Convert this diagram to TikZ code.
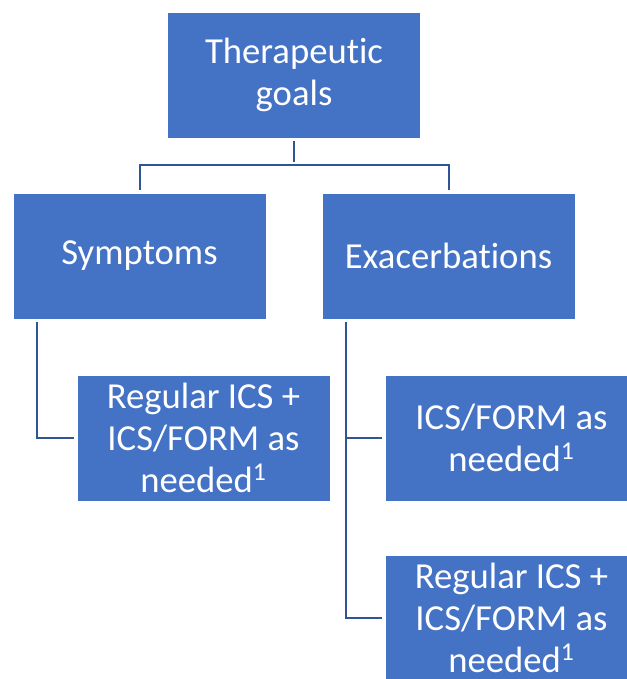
\documentclass[tikz,border=0pt]{standalone}
\usepackage{fontspec}
\setmainfont{Carlito}[Ligatures={NoCommon}]
\definecolor{boxblue}{HTML}{4472C4}
\definecolor{lineblue}{HTML}{2F5597}
\tikzset{
    goalbox/.style={rectangle, fill=boxblue, draw=white, line width=0.4pt,
        text=white, align=center, inner sep=0pt,
        minimum width=189.75pt, minimum height=94.5pt,
        font=\fontsize{27.5}{31.5}\selectfont},
    conn/.style={draw=lineblue, line width=1.5pt, shorten <=2pt, shorten >=2pt},
}
\begin{document}
\begin{tikzpicture}[x=0.75pt, y=-0.75pt]
    \useasboundingbox (0, 0) rectangle (627, 679);
    \clip (0, 0) rectangle (627, 679);
        \node[goalbox] (goals) at (294, 75) {Therapeutic\\goals};
        \node[goalbox] (symptoms) at (139.5, 256) {Symptoms};
        \node[goalbox] (exacerb) at (448.5, 256) {Exacerbations};
        \node[goalbox] (symreg) at (203.5, 438) {Regular ICS +\\ICS/FORM as\\needed\textsuperscript{1}};
        \node[goalbox] (exaform) at (511.5, 438) {ICS/FORM as\\needed\textsuperscript{1}};
        \node[goalbox] (exareg) at (511.5, 618) {Regular ICS +\\ICS/FORM as\\needed\textsuperscript{1}};
        \coordinate (hub) at (294, 165);
        \coordinate (symfoot) at (37, 319);
        \coordinate (exafoot) at (346, 319);
        \draw[conn] (goals.south) -- (hub);
        \draw[conn] (symptoms.north) |- (hub) -| (exacerb.north);
        \draw[conn] (symfoot) |- (symreg.west);
        \draw[conn] (exafoot) |- (exaform.west);
        \draw[conn] (exafoot) |- (exareg.west);
    \end{tikzpicture}
\end{document}
